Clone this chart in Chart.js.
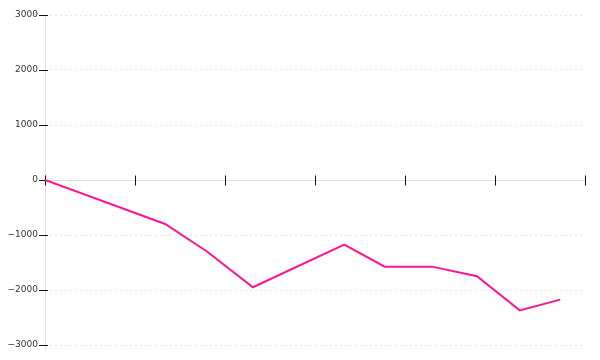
<!DOCTYPE html>
<html>
<head>
<meta charset="utf-8">
<script src="https://cdn.jsdelivr.net/npm/chart.js@4"></script>
<style>
  html, body { margin: 0; padding: 0; background: #fff; }
  canvas { display: block; }
</style>
</head>
<body>
<canvas id="chart" width="600" height="360"></canvas>
<script>
// positions along the x axis (axis runs 0..12, ticks every 2, no labels)
const xValues = [0, 2.67, 3.6, 4.62, 6.65, 7.55, 8.6, 9.6, 10.55, 11.45];
const yValues = [0, -800, -1300, -1950, -1175, -1575, -1575, -1750, -2370, -2175];
const xTicks = [0, 2, 4, 6, 8, 10, 12];
const yTicks = [-3000, -2000, -1000, 0, 1000, 2000, 3000];

const points = xValues.map((x, i) => ({ x, y: yValues[i] }));

// y axis line, zero axis line with crossing ticks, and the short y ticks
const axisDecor = {
    id: 'axisDecor',
    beforeDatasetsDraw(chart) {
        const { ctx, chartArea, scales: { x, y } } = chart;
        const zero = Math.round(y.getPixelForValue(0)) + 0.5;
        const left = Math.round(chartArea.left) + 0.5;
        ctx.save();
        ctx.lineWidth = 1;
        ctx.setLineDash([]);

        ctx.strokeStyle = '#dddddd';
        ctx.beginPath();
        ctx.moveTo(chartArea.left, zero);
        ctx.lineTo(chartArea.right, zero);
        ctx.moveTo(left, chartArea.top);
        ctx.lineTo(left, chartArea.bottom + 5);
        ctx.stroke();

        ctx.strokeStyle = '#111111';
        ctx.beginPath();
        for (const v of xTicks) {
            const px = Math.round(x.getPixelForValue(v)) + 0.5;
            ctx.moveTo(px, zero - 5);
            ctx.lineTo(px, zero + 5);
        }
        for (const v of yTicks) {
            const py = Math.round(y.getPixelForValue(v)) + 0.5;
            ctx.moveTo(chartArea.left - 6, py);
            ctx.lineTo(chartArea.left + 3, py);
        }
        ctx.stroke();
        ctx.restore();
    },
};

new Chart(document.getElementById('chart'), {
    type: 'line',
    data: {
        datasets: [{
            data: points,
            borderColor: '#ff1493',
            borderWidth: 2,
            pointRadius: 0,
            tension: 0,
            fill: false,
        }],
    },
    options: {
        responsive: false,
        animation: false,
        layout: { padding: { top: 15, right: 15, bottom: 15, left: 0 } },
        plugins: { legend: { display: false }, tooltip: { enabled: false } },
        scales: {
            x: {
                type: 'linear',
                min: 0,
                max: 12,
                display: false,
            },
            y: {
                min: -3000,
                max: 3000,
                afterFit(scale) { scale.width = 45; },
                afterBuildTicks(scale) { scale.ticks = yTicks.map(value => ({ value })); },
                // v4 takes the grid line dash from border.dash
                border: { display: false, dash: [2, 3] },
                grid: {
                    drawTicks: false,
                    color: ctx => (ctx.tick && ctx.tick.value === 0 ? 'rgba(0,0,0,0)' : '#e6e6e6'),
                },
                ticks: {
                    padding: 7,
                    color: '#333333',
                    font: { family: 'DejaVu Sans', size: 9 },
                    callback: v => String(v).replace('-', '\u2212'),
                },
            },
        },
    },
    plugins: [axisDecor],
});
</script>
</body>
</html>
